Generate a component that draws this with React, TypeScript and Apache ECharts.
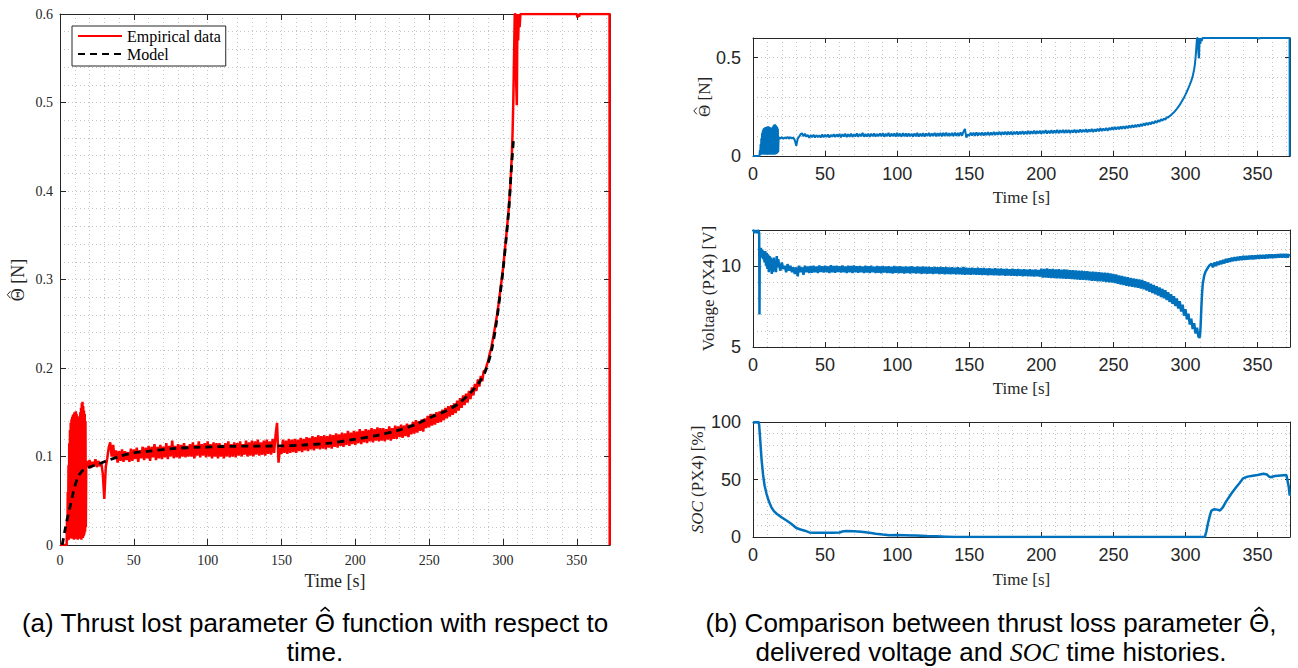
import React, { useEffect, useRef } from 'react';
import * as echarts from 'echarts';

// ---------------- axes / ticks ----------------
const timeMin = 0;
const timeMax = 372.5;
const timeStep = 50;
const timeMinorSplits = 5;

const thetaLeftMin = 0;
const thetaLeftMax = 0.6;
const thetaLeftStep = 0.1;

const thetaRightMin = 0;
const thetaRightMax = 0.6;
const thetaRightStep = 0.5;

const voltMin = 5;
const voltMax = 12.2;
const voltStep = 5;

const socMin = 0;
const socMax = 100;
const socStep = 50;

// ---------------- Theta (empirical) ----------------
// [time s, theta N]
const thetaOnset: [number, number][] = [[0, 0], [4.5, 0]];
// 4.75 s .. 17.75 s, every 0.25 s
const thetaOscillationStart = 4.75;
const thetaOscillationStep = 0.25;
const thetaOscillation = [
  0.03, 0.005, 0.06, 0.008, 0.09, 0.006, 0.115, 0.01, 0.13, 0.008,
  0.138, 0.012, 0.142, 0.007, 0.145, 0.01, 0.147, 0.008, 0.148, 0.006,
  0.15, 0.009, 0.149, 0.007, 0.151, 0.01, 0.148, 0.008, 0.146, 0.006,
  0.143, 0.009, 0.14, 0.007, 0.145, 0.01, 0.15, 0.008, 0.155, 0.006,
  0.16, 0.009, 0.162, 0.008, 0.157, 0.01, 0.152, 0.012, 0.148, 0.015,
  0.14, 0.02, 0.09,
];
// 18 s .. 287 s, every 1 s
const thetaSteadyStart = 18;
const thetaSteadyStep = 1;
const thetaSteady = [
  0.095, 0.088, 0.096, 0.087, 0.094, 0.089, 0.097, 0.088, 0.095, 0.089,
  0.093, 0.080, 0.052, 0.088, 0.098, 0.110, 0.116, 0.100, 0.113, 0.098,
  0.107, 0.093, 0.106, 0.095, 0.108, 0.094, 0.106, 0.096, 0.105, 0.094,
  0.109, 0.095, 0.108, 0.097, 0.110, 0.094, 0.107, 0.098, 0.111, 0.096,
  0.110, 0.098, 0.112, 0.095, 0.111, 0.099, 0.114, 0.096, 0.111, 0.098,
  0.113, 0.097, 0.111, 0.099, 0.115, 0.097, 0.112, 0.100, 0.118, 0.098,
  0.112, 0.099, 0.114, 0.098, 0.113, 0.100, 0.115, 0.099, 0.112, 0.100,
  0.114, 0.100, 0.116, 0.098, 0.113, 0.101, 0.117, 0.099, 0.114, 0.101,
  0.115, 0.099, 0.117, 0.100, 0.114, 0.098, 0.116, 0.100, 0.115, 0.098,
  0.115, 0.100, 0.113, 0.098, 0.115, 0.100, 0.117, 0.099, 0.114, 0.100,
  0.116, 0.099, 0.115, 0.101, 0.117, 0.100, 0.114, 0.102, 0.118, 0.100,
  0.116, 0.101, 0.118, 0.100, 0.117, 0.102, 0.119, 0.101, 0.116, 0.102,
  0.118, 0.101, 0.119, 0.103, 0.117, 0.102, 0.120, 0.104, 0.124, 0.138,
  0.093, 0.110, 0.103, 0.119, 0.104, 0.118, 0.103, 0.120, 0.104, 0.119,
  0.105, 0.120, 0.104, 0.119, 0.106, 0.121, 0.105, 0.120, 0.107, 0.122,
  0.106, 0.121, 0.108, 0.123, 0.107, 0.122, 0.109, 0.124, 0.108, 0.123,
  0.109, 0.124, 0.108, 0.123, 0.110, 0.125, 0.109, 0.124, 0.111, 0.126,
  0.110, 0.125, 0.112, 0.127, 0.111, 0.126, 0.113, 0.129, 0.112, 0.127,
  0.114, 0.129, 0.113, 0.128, 0.115, 0.131, 0.114, 0.129, 0.116, 0.131,
  0.115, 0.130, 0.117, 0.132, 0.116, 0.131, 0.118, 0.133, 0.117, 0.132,
  0.118, 0.132, 0.117, 0.131, 0.119, 0.134, 0.118, 0.132, 0.120, 0.135,
  0.120, 0.134, 0.122, 0.136, 0.121, 0.135, 0.123, 0.137, 0.122, 0.136,
  0.125, 0.139, 0.126, 0.141, 0.127, 0.140, 0.129, 0.142, 0.128, 0.143,
  0.132, 0.146, 0.133, 0.148, 0.135, 0.148, 0.136, 0.150, 0.138, 0.151,
  0.139, 0.153, 0.141, 0.155, 0.143, 0.157, 0.145, 0.158, 0.147, 0.160,
  0.149, 0.163, 0.152, 0.166, 0.155, 0.169, 0.158, 0.171, 0.161, 0.174,
  0.165, 0.178, 0.169, 0.182, 0.174, 0.187, 0.179, 0.191, 0.185, 0.197,
];
const thetaSurge: [number, number][] = [
  [288, 0.196], [289, 0.203], [290, 0.208], [291, 0.216], [292, 0.222],
  [293, 0.231], [294, 0.24], [295, 0.25], [296, 0.26], [297, 0.272],
  [298, 0.285], [299, 0.298], [300, 0.312], [301, 0.328], [302, 0.345],
  [303, 0.363], [304, 0.382], [305, 0.405], [306, 0.44], [306.5, 0.465],
  [307, 0.5], [307.5, 0.55], [308, 0.6], [308.5, 0.6], [309, 0.52],
  [309.4, 0.497], [309.8, 0.6], [310.3, 0.57], [310.8, 0.6], [311.3, 0.585],
  [311.8, 0.6], [350, 0.6], [350.5, 0.596], [351, 0.6], [351.5, 0.597],
  [352, 0.6], [372.2, 0.6], [372.3, 0],
];

// ---------------- Theta (model) ----------------
const thetaModel: [number, number][] = [
  [1.5, 0], [3.4, 0.017], [5, 0.03], [6.8, 0.043], [8.5, 0.056], [10, 0.066],
  [12, 0.076], [14.6, 0.083], [17, 0.086], [20, 0.088], [25, 0.091],
  [31.5, 0.095], [40, 0.1], [49.5, 0.104], [60, 0.106], [76.6, 0.109],
  [95, 0.1105], [117, 0.1115], [150, 0.112], [165, 0.113], [182, 0.115],
  [198, 0.119], [215, 0.124], [230, 0.13], [242, 0.137], [252, 0.145],
  [262, 0.152], [270, 0.16], [278, 0.172], [284, 0.184], [288, 0.196],
  [292, 0.218], [295, 0.245], [298, 0.282], [300, 0.31], [302, 0.343],
  [304, 0.38], [305.5, 0.42], [307.3, 0.462],
];

// ---------------- Voltage (PX4) ----------------
const voltageStartup: [number, number][] = [
  [0, 12.1], [0.5, 12.2], [1, 12.0], [1.5, 12.2], [2, 12.05], [2.5, 12.2],
  [3, 12.0], [3.5, 12.2], [4, 12.1], [4.3, 12.0], [4.5, 7.0], [4.7, 11.0],
  [5, 10.8],
];
// 5.5 s .. 17.5 s, every 0.5 s
const voltageEarlyStart = 5.5;
const voltageEarlyStep = 0.5;
const voltageEarly = [
  11.1, 10.5, 11.0, 10.4, 10.9, 10.2, 10.9, 10.0, 10.8, 9.8,
  10.7, 9.6, 10.6, 9.7, 10.5, 9.5, 10.4, 9.6, 10.5, 9.7,
  10.3, 9.6, 10.6, 9.9, 10.4,
];
// 18 s .. 309 s, every 1 s
const voltageSteadyStart = 18;
const voltageSteadyStep = 1;
const voltageSteady = [
  10.1, 9.7, 10.2, 9.8, 10.0, 9.6, 10.1, 9.7, 10.0, 9.6,
  9.9, 9.5, 9.9, 9.35, 10.0, 9.6, 9.9, 9.45, 10.0, 9.6,
  9.95, 9.55, 9.98, 9.57, 10.0, 9.6, 9.95, 9.55, 10.02, 9.62,
  9.97, 9.58, 10.0, 9.6, 9.96, 9.55, 10.03, 9.6, 9.98, 9.57,
  10.0, 9.62, 9.97, 9.58, 10.01, 9.6, 9.95, 9.56, 10.0, 9.6,
  9.98, 9.55, 10.02, 9.6, 9.96, 9.57, 9.99, 9.6, 9.95, 9.55,
  10.0, 9.58, 9.97, 9.56, 10.0, 9.6, 9.94, 9.55, 9.98, 9.57,
  9.96, 9.54, 9.99, 9.58, 9.95, 9.55, 9.97, 9.56, 9.94, 9.53,
  9.98, 9.57, 9.95, 9.54, 9.97, 9.55, 9.93, 9.52, 9.96, 9.56,
  9.94, 9.53, 9.97, 9.55, 9.92, 9.52, 9.95, 9.54, 9.93, 9.5,
  9.96, 9.53, 9.92, 9.51, 9.94, 9.53, 9.9, 9.5, 9.93, 9.52,
  9.91, 9.49, 9.93, 9.51, 9.9, 9.48, 9.92, 9.5, 9.89, 9.47,
  9.91, 9.49, 9.88, 9.47, 9.9, 9.48, 9.87, 9.46, 9.92, 9.45,
  9.88, 9.47, 9.86, 9.45, 9.88, 9.46, 9.85, 9.44, 9.87, 9.45,
  9.84, 9.43, 9.86, 9.44, 9.83, 9.42, 9.85, 9.43, 9.82, 9.41,
  9.84, 9.42, 9.81, 9.4, 9.83, 9.41, 9.8, 9.39, 9.82, 9.4,
  9.79, 9.38, 9.81, 9.39, 9.78, 9.37, 9.8, 9.38, 9.77, 9.36,
  9.79, 9.37, 9.76, 9.35, 9.78, 9.36, 9.75, 9.34, 9.77, 9.35,
  9.74, 9.33, 9.82, 9.28, 9.8, 9.27, 9.83, 9.26, 9.79, 9.25,
  9.81, 9.24, 9.77, 9.23, 9.79, 9.22, 9.76, 9.21, 9.78, 9.2,
  9.75, 9.19, 9.73, 9.18, 9.72, 9.16, 9.71, 9.15, 9.7, 9.14,
  9.69, 9.13, 9.67, 9.12, 9.66, 9.1, 9.64, 9.08, 9.63, 9.07,
  9.62, 9.05, 9.6, 9.04, 9.58, 9.02, 9.57, 9.0, 9.55, 8.98,
  9.53, 8.97, 9.5, 8.94, 9.46, 8.89, 9.41, 8.85, 9.37, 8.81,
  9.33, 8.77, 9.29, 8.73, 9.25, 8.7, 9.22, 8.67, 9.19, 8.64,
  9.16, 8.6, 9.12, 8.55, 9.05, 8.48, 8.98, 8.4, 8.9, 8.32,
  8.82, 8.24, 8.74, 8.16, 8.66, 8.08, 8.58, 8.0, 8.49, 7.89,
  8.37, 7.77, 8.25, 7.65, 8.13, 7.52, 7.99, 7.37, 7.82, 7.18,
  7.6, 6.93, 7.33, 6.7, 7.05, 6.38, 6.75, 6.11, 6.47, 5.83,
  6.19, 5.62,
];
const voltageRecovery: [number, number][] = [
  [310, 5.6], [310.5, 6.3], [311, 7.4], [311.5, 8.3], [312, 8.9], [313, 9.4],
  [314, 9.65], [315, 9.8], [316, 9.95], [317, 10.05],
];
// 318 s .. 372 s, every 1 s
const voltageLateStart = 318;
const voltageLateStep = 1;
const voltageLate = [
  10.12, 9.9, 10.2, 9.98, 10.25, 10.05, 10.3, 10.1, 10.36, 10.14,
  10.42, 10.2, 10.45, 10.24, 10.5, 10.28, 10.53, 10.3, 10.55, 10.33,
  10.57, 10.35, 10.6, 10.36, 10.6, 10.38, 10.62, 10.4, 10.63, 10.4,
  10.64, 10.42, 10.65, 10.43, 10.66, 10.44, 10.67, 10.45, 10.68, 10.46,
  10.69, 10.47, 10.7, 10.48, 10.7, 10.49, 10.71, 10.5, 10.72, 10.5,
  10.72, 10.51, 10.73, 10.5, 10.72,
];

// ---------------- SOC (PX4) ----------------
const socHistory: [number, number][] = [
  [0, 100], [1, 99.5], [2, 100], [3, 99.5], [4, 100], [4.3, 97], [5.2, 81],
  [5.9, 68], [7, 54], [8, 45], [9.3, 38], [11, 31], [12.7, 26], [14.5, 22.5],
  [16.6, 20], [18, 18.8], [20, 17], [23, 14.5], [26, 12], [28, 10], [30, 7.8],
  [33, 6.5], [36, 5.5], [39, 4], [42, 3.6], [50, 3.8], [55, 3.6], [60, 3.9],
  [62, 4.8], [64.6, 5.2], [70, 5], [75, 4.6], [78, 4.2], [82, 3.5], [85, 2.9],
  [90, 2.2], [94.5, 1.6], [100, 1.8], [105, 1.5], [110, 1.2], [113, 1.4],
  [120, 0.8], [127, 0.6], [134, 0.3], [141, 0], [313.4, 0], [314.5, 5],
  [315.6, 12], [317, 19], [318, 23], [320, 24.2], [322, 23.8], [324, 23],
  [326, 26], [328, 30.5], [332, 38], [335, 43], [337.4, 46.7], [340, 51],
  [343, 52.5], [345.6, 53], [350, 54], [354, 55], [356.6, 54.3], [358, 52.5],
  [359, 52], [362, 53], [366, 53.5], [370, 54], [371.6, 44], [372.3, 36],
];

// ---------------- texts ----------------
const legendNames = ['Empirical data', 'Model'];
const timeTitle = 'Time [s]';
const thetaSymbol = 'Θ';
const thetaUnit = ' [N]';
const voltTitle = 'Voltage (PX4) [V]';
const socTitle = '{i|SOC} (PX4) [%]';
const captionA1 = ['(a) Thrust lost parameter ', ' function with respect to'];
const captionA2 = 'time.';
const captionB1 = ['(b) Comparison between thrust loss parameter ', ','];
const captionB2 = 'delivered voltage and {i|SOC} time histories.';

// ---------------- helpers ----------------
const sampled = (start: number, step: number, values: number[]): [number, number][] =>
  values.map((v, i) => [start + i * step, v]);

const empiricalTheta = [
  ...thetaOnset,
  ...sampled(thetaOscillationStart, thetaOscillationStep, thetaOscillation),
  ...sampled(thetaSteadyStart, thetaSteadyStep, thetaSteady),
  ...thetaSurge,
];
const voltage = [
  ...voltageStartup,
  ...sampled(voltageEarlyStart, voltageEarlyStep, voltageEarly),
  ...sampled(voltageSteadyStart, voltageSteadyStep, voltageSteady),
  ...voltageRecovery,
  ...sampled(voltageLateStart, voltageLateStep, voltageLate),
];

const AXIS = '#262626';
const SERIF = 'Liberation Serif';
const SANS = 'Liberation Sans';
const dotted = { color: '#c4c4c4', width: 1, type: [1, 3] };

let measureCtx: CanvasRenderingContext2D | null = null;
function measure(s: string, font: string) {
  if (!measureCtx) measureCtx = document.createElement('canvas').getContext('2d');
  if (!measureCtx) return s.length * 10;
  measureCtx.font = font;
  return measureCtx.measureText(s).width;
}

function xPair(grid: number, o: any) {
  const base: any = {
    type: 'value', gridIndex: grid, min: timeMin, max: timeMax, interval: timeStep,
    axisLine: { show: true, onZero: false, lineStyle: { color: AXIS, width: 1 } },
    axisTick: { show: true, inside: true, length: o.tick, lineStyle: { color: AXIS } },
    minorTick: { show: false, splitNumber: timeMinorSplits },
  };
  return [
    {
      ...base, position: 'bottom',
      splitLine: { show: true, lineStyle: dotted },
      minorSplitLine: { show: true, lineStyle: dotted },
      axisLabel: { show: true, margin: o.margin, fontFamily: o.font, fontSize: o.size, color: AXIS, showMaxLabel: false, showMinLabel: true },
      name: timeTitle, nameLocation: 'middle', nameGap: o.nameGap,
      nameTextStyle: { fontFamily: SERIF, fontSize: o.nameSize, color: AXIS },
    },
    {
      ...base, position: 'top',
      splitLine: { show: false }, minorSplitLine: { show: false },
      axisLabel: { show: false },
    },
  ];
}

function yPair(grid: number, o: any) {
  const base: any = {
    type: 'value', gridIndex: grid, min: o.min, max: o.max, interval: o.step,
    axisLine: { show: true, onZero: false, lineStyle: { color: AXIS, width: 1 } },
    axisTick: { show: true, inside: true, length: o.tick, lineStyle: { color: AXIS } },
    minorTick: { show: false, splitNumber: o.minor },
  };
  return [
    {
      ...base, position: 'left',
      splitLine: { show: true, lineStyle: dotted },
      minorSplitLine: { show: true, lineStyle: dotted },
      axisLabel: { show: true, margin: o.margin, fontFamily: o.font, fontSize: o.size, color: AXIS, showMaxLabel: o.showMax, showMinLabel: true },
      name: o.name, nameLocation: 'middle', nameGap: o.nameGap, nameRotate: 90,
      nameTextStyle: {
        fontFamily: SERIF, fontSize: o.nameSize, color: AXIS,
        rich: { i: { fontFamily: SERIF, fontStyle: 'italic', fontSize: o.nameSize, color: AXIS } },
      },
    },
    {
      ...base, position: 'right',
      splitLine: { show: false }, minorSplitLine: { show: false },
      axisLabel: { show: false },
    },
  ];
}

// rotated "Θ̂ [N]" title: text plus a small circumflex drawn over the Θ
function thetaTitle(cx: number, cy: number, size: number) {
  const font = `${size}px "${SERIF}"`;
  const full = thetaSymbol + thetaUnit;
  const W = measure(full, font);
  const w = measure(thetaSymbol, font);
  const hx = -W / 2 + w / 2;
  const capTop = -0.33 * size;
  const hw = size * 0.2;
  return {
    type: 'group', x: cx, y: cy, rotation: Math.PI / 2,
    children: [
      { type: 'text', x: 0, y: 0, style: { text: full, fontFamily: SERIF, fontSize: size, fill: AXIS, textAlign: 'center', textVerticalAlign: 'middle' } },
      { type: 'polyline', shape: { points: [[hx - hw, capTop - 1.5], [hx, capTop - 1.5 - hw * 0.9], [hx + hw, capTop - 1.5]] }, style: { stroke: AXIS, lineWidth: 1, fill: null } },
    ],
  };
}

const CAP_SIZE = 26;
const captionText = (text: string) => ({
  text, fontFamily: SANS, fontSize: CAP_SIZE, fill: '#000', textAlign: 'center', textVerticalAlign: 'middle',
  rich: { i: { fontFamily: SERIF, fontStyle: 'italic', fontSize: CAP_SIZE, fill: '#000' } },
});

function captionWithHat(cx: number, cy: number, parts: string[]) {
  const font = `${CAP_SIZE}px "${SANS}"`;
  const full = parts[0] + thetaSymbol + parts[1];
  const W = measure(full, font);
  const P = measure(parts[0], font);
  const w = measure(thetaSymbol, font);
  const hx = cx - W / 2 + P + w / 2;
  const capTop = cy - 0.37 * CAP_SIZE;
  return [
    { type: 'text', x: cx, y: cy, style: captionText(full) },
    { type: 'polyline', shape: { points: [[hx - 4.5, capTop - 2], [hx, capTop - 6], [hx + 4.5, capTop - 2]] }, style: { stroke: '#000', lineWidth: 1.5, fill: null } },
  ];
}

function buildOption() {
  const leftX = { tick: 6, margin: 8, font: SERIF, size: 14, nameGap: 24, nameSize: 18 };
  const rightX = { tick: 5, margin: 9, font: SANS, size: 18, nameGap: 33, nameSize: 17 };
  return {
    animation: false,
    backgroundColor: '#ffffff',
    grid: [
      { left: 60, top: 14, width: 550, height: 531, outerBoundsMode: 'none' },
      { left: 753, top: 38, width: 537, height: 118, outerBoundsMode: 'none' },
      { left: 753, top: 230, width: 537, height: 117, outerBoundsMode: 'none' },
      { left: 753, top: 422, width: 537, height: 115, outerBoundsMode: 'none' },
    ],
    xAxis: [
      ...xPair(0, leftX),
      ...xPair(1, rightX),
      ...xPair(2, rightX),
      ...xPair(3, { ...rightX, nameGap: 34 }),
    ],
    yAxis: [
      ...yPair(0, { min: thetaLeftMin, max: thetaLeftMax, step: thetaLeftStep, minor: 5, tick: 6, margin: 7, font: SERIF, size: 14, showMax: true, name: '', nameGap: 33, nameSize: 18 }),
      ...yPair(1, { min: thetaRightMin, max: thetaRightMax, step: thetaRightStep, minor: 5, tick: 5, margin: 12, font: SANS, size: 18, showMax: false, name: '', nameGap: 40, nameSize: 17 }),
      ...yPair(2, { min: voltMin, max: voltMax, step: voltStep, minor: 5, tick: 5, margin: 12, font: SANS, size: 18, showMax: false, name: voltTitle, nameGap: 36, nameSize: 17 }),
      ...yPair(3, { min: socMin, max: socMax, step: socStep, minor: 5, tick: 5, margin: 12, font: SANS, size: 18, showMax: true, name: socTitle, nameGap: 47, nameSize: 17 }),
    ],
    legend: {
      data: legendNames,
      orient: 'vertical', left: 72, top: 26,
      itemWidth: 44, itemHeight: 14, itemGap: 2,
      padding: [2, 5, 4, 5],
      borderColor: AXIS, borderWidth: 1, backgroundColor: '#ffffff',
      itemStyle: { opacity: 0 },
      textStyle: { fontFamily: SERIF, fontSize: 16, color: '#000' },
    },
    series: [
      {
        name: legendNames[0], type: 'line', xAxisIndex: 0, yAxisIndex: 0,
        data: empiricalTheta, symbol: 'none', showSymbol: false,
        lineStyle: { color: '#ff0000', width: 2.5 }, itemStyle: { color: '#ff0000' }, z: 2,
      },
      {
        name: legendNames[1], type: 'line', xAxisIndex: 0, yAxisIndex: 0,
        data: thetaModel, symbol: 'none', showSymbol: false, smooth: 0.3,
        lineStyle: { color: '#000000', width: 2.8, type: [7, 5] }, itemStyle: { color: '#000000' }, z: 3,
      },
      {
        name: 'thetaRight', type: 'line', xAxisIndex: 2, yAxisIndex: 2,
        data: empiricalTheta, symbol: 'none', showSymbol: false,
        lineStyle: { color: '#0072bd', width: 2 }, itemStyle: { color: '#0072bd' },
      },
      {
        name: 'voltage', type: 'line', xAxisIndex: 4, yAxisIndex: 4,
        data: voltage, symbol: 'none', showSymbol: false,
        lineStyle: { color: '#0072bd', width: 2.5 }, itemStyle: { color: '#0072bd' },
      },
      {
        name: 'soc', type: 'line', xAxisIndex: 6, yAxisIndex: 6,
        data: socHistory, symbol: 'none', showSymbol: false,
        lineStyle: { color: '#0072bd', width: 2.5 }, itemStyle: { color: '#0072bd' },
      },
    ],
    graphic: [
      thetaTitle(18, 280, 18),
      thetaTitle(704, 97, 17),
      ...captionWithHat(315, 623, captionA1),
      { type: 'text', x: 315, y: 652, style: captionText(captionA2) },
      ...captionWithHat(991, 623, captionB1),
      { type: 'text', x: 991, y: 652, style: captionText(captionB2) },
    ],
  };
}

export default function App() {
  const ref = useRef<HTMLDivElement>(null);
  useEffect(() => {
    if (!ref.current) return;
    const chart = echarts.init(ref.current, null, { renderer: 'svg' });
    chart.setOption(buildOption() as any);
    return () => chart.dispose();
  }, []);
  return (
    <div
      ref={ref}
      style={{ position: 'fixed', left: 0, top: 0, width: 1298, height: 668, background: '#ffffff' }}
    />
  );
}
